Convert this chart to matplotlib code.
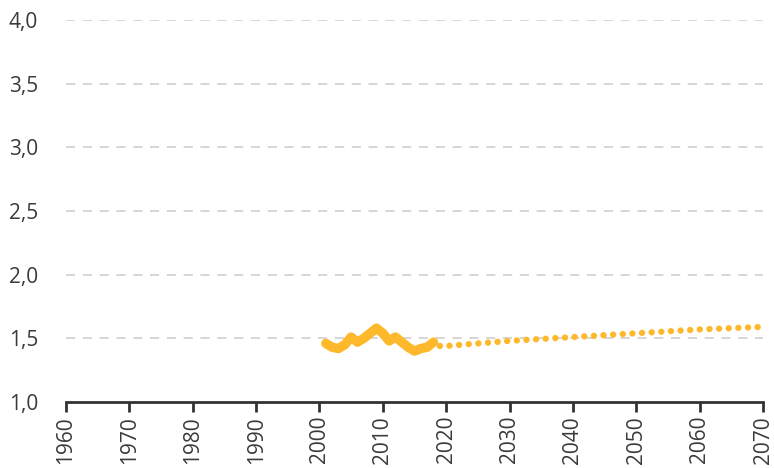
import matplotlib
matplotlib.use("Agg")
import matplotlib.pyplot as plt
import numpy as np

# observed values
hist_years = [2001, 2002, 2003, 2004, 2005, 2006, 2007, 2008, 2009, 2010,
              2011, 2012, 2013, 2014, 2015, 2016, 2017, 2018]
hist_vals = [1.46, 1.43, 1.42, 1.45, 1.51, 1.47, 1.50, 1.54, 1.58, 1.54,
             1.48, 1.51, 1.47, 1.43, 1.40, 1.42, 1.43, 1.47]

# projection
proj_years = [2019, 2020, 2030, 2040, 2050, 2060, 2070]
proj_vals = [1.44, 1.44, 1.48, 1.51, 1.54, 1.57, 1.59]

xticks = list(range(1960, 2071, 10))
yticks = [1.0, 1.5, 2.0, 2.5, 3.0, 3.5, 4.0]

color = '#FDB92B'
plt.rcParams['font.family'] = ['Open Sans', 'DejaVu Sans']

fig = plt.figure(figsize=(7.74, 4.68), dpi=100)
ax = fig.add_axes([66/774, 1-402/468, (763-66)/774, (402-20)/468])

ax.plot(proj_years, proj_vals, color=color, lw=4.6,
        linestyle=(0, (0.01, 1.5)), dash_capstyle='round')
ax.plot(hist_years, hist_vals, color=color, lw=6.8, solid_capstyle='round',
        solid_joinstyle='round')

ax.set_xlim(1960, 2070)
ax.set_ylim(1.0, 4.0)
ax.set_xticks(xticks)
ax.set_xticklabels([str(x) for x in xticks], rotation=90)
ax.set_yticks(yticks)
ax.set_yticklabels([f"{v:.1f}".replace('.', ',') for v in yticks])

for v in yticks[1:]:
    ax.axhline(v, color='#cccccc', lw=1.1, linestyle=(0, (6, 5)), zorder=0)

for s in ['left', 'right', 'top']:
    ax.spines[s].set_visible(False)
ax.spines['bottom'].set_linewidth(2)
ax.spines['bottom'].set_color('#333333')
ax.tick_params(axis='x', direction='out', length=7, width=2, color='#333333',
               labelsize=15, labelcolor='#3a3a3a', pad=3)
ax.tick_params(axis='y', length=0, labelsize=15, labelcolor='#3a3a3a', pad=20)

fig.savefig('out.png', dpi=100)
